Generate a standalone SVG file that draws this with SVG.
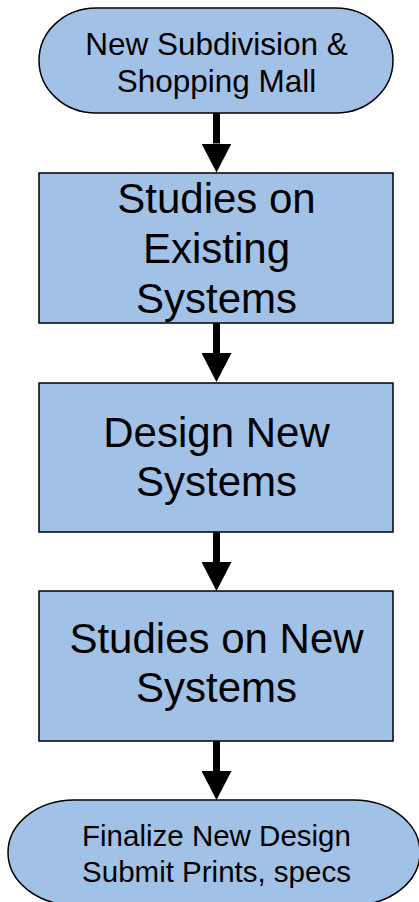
<svg xmlns="http://www.w3.org/2000/svg" width="419" height="902" viewBox="0 0 419 902">
<style>
.shape{fill:#A2C1E6;stroke:#000;stroke-width:1.5}
.t{font-family:"Liberation Sans",Arial,sans-serif;fill:#000;text-anchor:middle}
.big{font-size:42px}
.sm{font-size:31.5px}
.sm2{font-size:29.5px}
.conn{stroke:#000;stroke-width:7;fill:none}
</style>
<defs>
<marker id="ah" viewBox="0 0 29 30" refX="0" refY="15" markerWidth="29" markerHeight="30" markerUnits="userSpaceOnUse" orient="auto">
<path d="M0,0 L29,15 L0,30 Z" fill="#000"/>
</marker>
</defs>
<g id="connectors">
<line class="conn" x1="216.5" y1="113" x2="216.5" y2="143.5" marker-end="url(#ah)"/>
<line class="conn" x1="216.5" y1="323" x2="216.5" y2="353" marker-end="url(#ah)"/>
<line class="conn" x1="216.5" y1="532" x2="216.5" y2="562" marker-end="url(#ah)"/>
<line class="conn" x1="216.5" y1="741" x2="216.5" y2="771" marker-end="url(#ah)"/>
</g>
<g id="start">
<rect class="shape" x="39" y="8" width="354" height="105" rx="57" ry="52.5"/>
<text class="t sm" x="216.5" y="55">New Subdivision &amp;</text>
<text class="t sm" x="216.5" y="92">Shopping Mall</text>
</g>
<g id="studies-existing">
<rect class="shape" x="39" y="173" width="354" height="150"/>
<text class="t big" x="216.5" y="213">Studies on</text>
<text class="t big" x="216.5" y="263">Existing</text>
<text class="t big" x="216.5" y="313">Systems</text>
</g>
<g id="design-new">
<rect class="shape" x="39" y="383" width="354" height="149"/>
<text class="t big" x="216.5" y="447">Design New</text>
<text class="t big" x="216.5" y="496">Systems</text>
</g>
<g id="studies-new">
<rect class="shape" x="39" y="591" width="354" height="150"/>
<text class="t big" x="216.5" y="653">Studies on New</text>
<text class="t big" x="216.5" y="702">Systems</text>
</g>
<g id="finalize">
<rect class="shape" x="8" y="800" width="412" height="105" rx="66" ry="52.5"/>
<text class="t sm2" x="216.5" y="846">Finalize New Design</text>
<text class="t sm2" x="216.5" y="882">Submit Prints, specs</text>
</g>
</svg>
